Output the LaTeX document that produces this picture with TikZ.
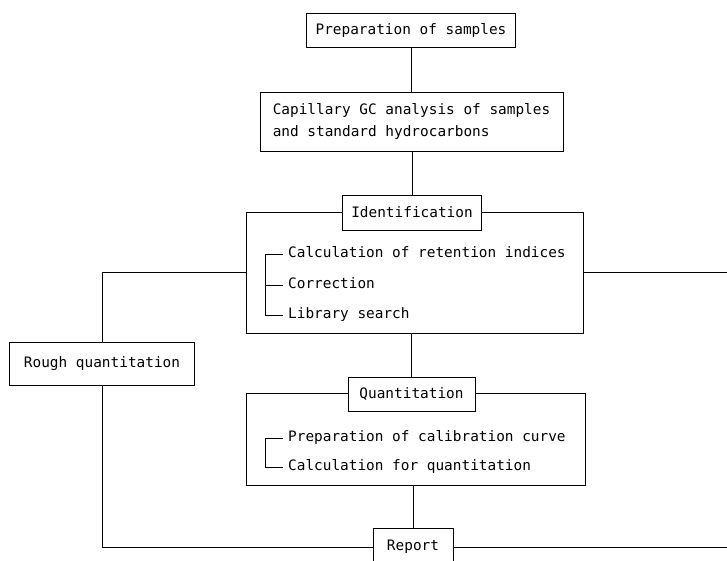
\documentclass[tikz,border=0pt]{standalone}
\usepackage{fontspec}
\setmonofont{DejaVu Sans Mono}
\tikzset{
  chartfont/.style={font=\ttfamily\fontsize{14.4}{22}\selectfont},
  box/.style={draw, line width=0.9pt, fill=white, inner sep=0pt, chartfont},
  frame/.style={draw, line width=0.9pt, inner sep=0pt},
  item/.style={anchor=west, inner sep=0pt, text height=10pt, text depth=3pt, chartfont},
  wire/.style={line width=0.9pt}
}

\begin{document}
\begin{tikzpicture}[x=1pt,y=-1pt]
\useasboundingbox (0,0) rectangle (727,561);
\node[frame, minimum width=337pt, minimum height=121pt] (identframe) at (414.5,272.5) {};
\node[frame, minimum width=339pt, minimum height=92pt] (quantframe) at (415.5,439) {};
\node[box, minimum width=209pt, minimum height=34pt] (prep) at (411,30) {Preparation of samples};
\node[box, minimum width=303pt, minimum height=59pt, align=left] (gc) at (411.5,121.5)
  {Capillary GC analysis of samples\\and standard hydrocarbons};
\node[box, minimum width=139pt, minimum height=35pt] (ident) at (412,212.5) {Identification};
\node[box, minimum width=127pt, minimum height=34pt] (quant) at (411.5,394) {Quantitation};
\node[box, minimum width=185pt, minimum height=43pt] (rough) at (102,363.5) {Rough quantitation};
\node[box, minimum width=80pt, minimum height=38pt] (report) at (413,547) {Report};
\node[item] (ret) at (288,254) {Calculation of retention indices};
\node[item] (corr) at (288,285) {Correction};
\node[item] (lib) at (288,315) {Library search};
\node[item] (calib) at (288,438) {Preparation of calibration curve};
\node[item] (calc) at (288,467) {Calculation for quantitation};
\coordinate (identend) at (727,272.5);
\coordinate (reportend) at (727,547);
\draw[wire] (prep.south) -- (prep.south |- gc.north);
\draw[wire] (ident.north |- gc.south) -- (ident.north);
\draw[wire] (quant.north |- identframe.south) -- (quant.north);
\draw[wire] (report.north |- quantframe.south) -- (report.north);
\draw[wire] (identframe.west) -| (rough.north);
\draw[wire] (rough.south) |- (report.west);
\draw[wire] (identframe.east) -- (identend);
\draw[wire] (report.east) -- (reportend);
\draw[wire] ([xshift=-5pt]ret.west) -| ([xshift=-23pt]lib.west) -- ([xshift=-5pt]lib.west);
\draw[wire] ([xshift=-23pt]corr.west) -- ([xshift=-5pt]corr.west);
\draw[wire] ([xshift=-5pt]calib.west) -| ([xshift=-23pt]calc.west) -- ([xshift=-5pt]calc.west);
\end{tikzpicture}
\end{document}
